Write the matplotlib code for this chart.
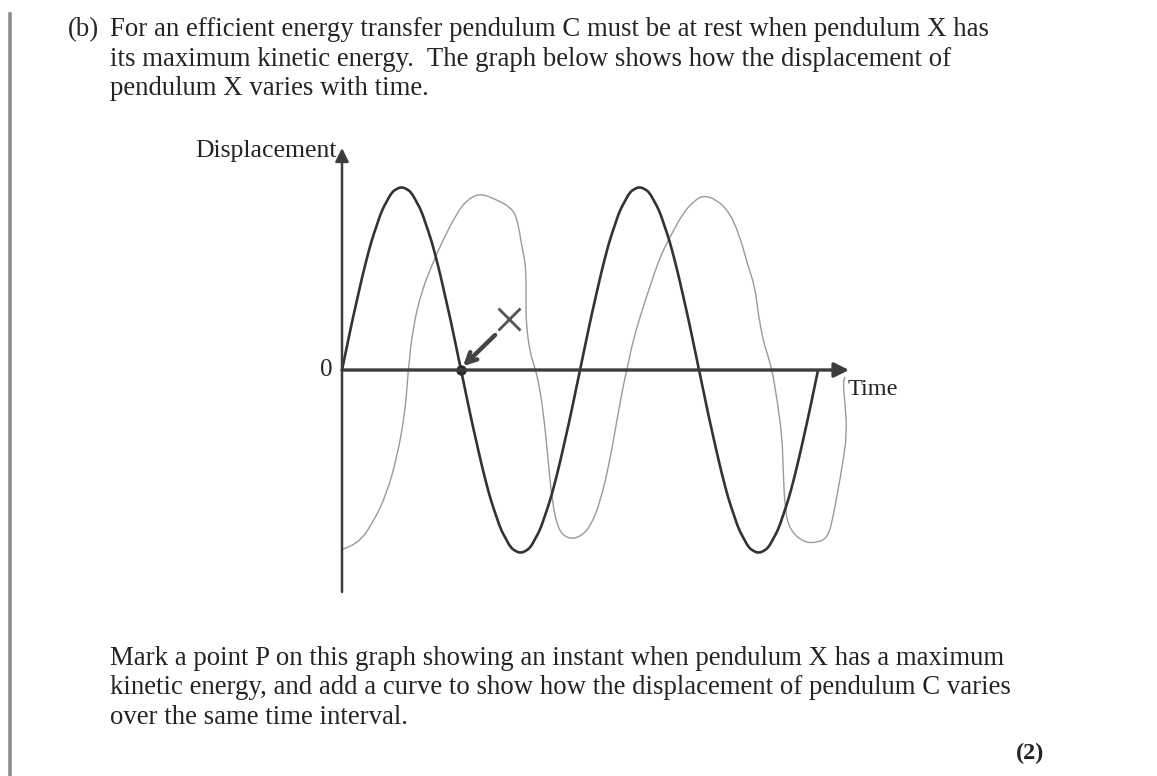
import numpy as np
import matplotlib.pyplot as plt
from matplotlib.lines import Line2D
from matplotlib.path import Path
from matplotlib.patches import PathPatch

plt.rcParams['font.family'] = ['Liberation Serif', 'DejaVu Serif']

W, H = 1157, 776

# pendulum X (printed curve): displacement read every 1/48 of a period, peak = 1
# both cycles on the page are identical, so one cycle is read and used twice
x_cycle = [0.00, 0.13, 0.26, 0.38, 0.50, 0.61, 0.71, 0.79, 0.87, 0.92, 0.97, 0.99,
           1.00, 0.99, 0.97, 0.92, 0.87, 0.79, 0.71, 0.61, 0.50, 0.38, 0.26, 0.13,
           0.00, -0.13, -0.26, -0.38, -0.50, -0.61, -0.71, -0.79, -0.87, -0.92, -0.97, -0.99,
           -1.00, -0.99, -0.97, -0.92, -0.87, -0.79, -0.71, -0.61, -0.50, -0.38, -0.26, -0.13]
x_disp = x_cycle + x_cycle + [0.00]
x_time = np.arange(len(x_disp)) / 48

# pendulum C (pencil curve drawn by hand)
c_time = [0.004, 0.063, 0.130, 0.189, 0.231, 0.265, 0.277, 0.298, 0.336, 0.382,
          0.424, 0.483, 0.525, 0.580, 0.651, 0.706, 0.735, 0.756, 0.773, 0.773,
          0.773, 0.790, 0.807, 0.824, 0.845, 0.866, 0.882, 0.908, 0.950, 1.000,
          1.042, 1.084, 1.126, 1.160, 1.189, 1.197, 1.223, 1.265, 1.303, 1.336,
          1.378, 1.433, 1.475, 1.517, 1.576, 1.630, 1.672, 1.702, 1.735, 1.748,
          1.769, 1.782, 1.807, 1.828, 1.849, 1.853, 1.861, 1.882, 1.937, 1.996,
          2.042, 2.063, 2.084, 2.101, 2.122, 2.113, 2.105, 2.113]
c_disp = [-0.978, -0.956, -0.836, -0.672, -0.475, -0.235, -0.016, 0.235, 0.437, 0.585,
          0.710, 0.858, 0.929, 0.967, 0.929, 0.891, 0.836, 0.672, 0.563, 0.399,
          0.257, 0.093, 0.027, -0.055, -0.219, -0.492, -0.710, -0.874, -0.923, -0.913,
          -0.858, -0.727, -0.492, -0.235, -0.038, 0.000, 0.164, 0.344, 0.492, 0.617,
          0.727, 0.858, 0.918, 0.956, 0.929, 0.858, 0.727, 0.585, 0.454, 0.311,
          0.164, 0.109, 0.000, -0.164, -0.366, -0.530, -0.765, -0.874, -0.940, -0.945,
          -0.913, -0.803, -0.656, -0.530, -0.344, -0.180, -0.071, -0.038]

# point P and the pencil cross
p_time, p_disp = 0.5, 0.0
cross_time, cross_disp = 0.70, 0.28
arrow_from = (0.643, 0.191)

t_max = 2.13
d_lim = 1.213

top_lines = ["For an efficient energy transfer pendulum C must be at rest when pendulum X has",
             "its maximum kinetic energy.  The graph below shows how the displacement of",
             "pendulum X varies with time."]
bottom_lines = ["Mark a point P on this graph showing an instant when pendulum X has a maximum",
                "kinetic energy, and add a curve to show how the displacement of pendulum C varies",
                "over the same time interval."]


def smooth_path(ts, ds):
    # quadratic bezier through the midpoints, read points act as control points
    pts = np.column_stack([ts, ds])
    verts = [pts[0]]
    codes = [Path.MOVETO]
    for i in range(1, len(pts) - 1):
        verts += [pts[i], (pts[i] + pts[i + 1]) / 2]
        codes += [Path.CURVE3, Path.CURVE3]
    verts.append(pts[-1])
    codes.append(Path.LINETO)
    return Path(verts, codes)


fig = plt.figure(figsize=(W / 100, H / 100), dpi=100)
fig.patch.set_facecolor('white')


def fx(px):
    return px / W


def fy(py):
    return 1 - py / H


# grey margin bar of the scan
fig.add_artist(Line2D([fx(10), fx(10)], [fy(14), 0], color='#8c8c8c', lw=2.6))

ink = '#242424'
fig.text(fx(68), fy(36), "(b)", size=19.3, color=ink, va='baseline')
for i, line in enumerate(top_lines):
    fig.text(fx(110), fy(36 + 29.5 * i), line, size=19.3, color=ink, va='baseline')
for i, line in enumerate(bottom_lines):
    fig.text(fx(110), fy(665 + 29.5 * i), line, size=19.3, color=ink, va='baseline')
fig.text(fx(1016), fy(759), "(2)", size=17.5, color=ink, va='baseline', fontweight='bold')

ax = fig.add_axes([fx(342), fy(592), fx(849) - fx(342), fy(148) - fy(592)])
ax.set_xlim(0, t_max)
ax.set_ylim(-d_lim, d_lim)
ax.axis('off')

axis_col = '#3c3c3c'
ax.annotate('', xy=(t_max, 0), xytext=(0, 0),
            arrowprops=dict(arrowstyle='-|>', color=axis_col, lw=2.4, mutation_scale=22,
                            shrinkA=0, shrinkB=0))
ax.annotate('', xy=(0, d_lim), xytext=(0, -d_lim),
            arrowprops=dict(arrowstyle='-|>', color=axis_col, lw=1.8, mutation_scale=20,
                            shrinkA=0, shrinkB=0))

ax.text(-0.02, 1.164, "Displacement", size=18.5, color=ink, ha='right', va='baseline')
ax.text(-0.038, 0, "0", size=18, color=ink, ha='right', va='center')
ax.text(2.122, -0.137, "Time", size=17.5, color=ink, ha='left', va='baseline')

ax.add_patch(PathPatch(smooth_path(c_time, c_disp), fill=False, edgecolor='#9a9a9a',
                       lw=1.0, joinstyle='round', clip_on=False))
ax.add_patch(PathPatch(smooth_path(x_time, x_disp), fill=False, edgecolor='#333333',
                       lw=1.9, joinstyle='round', clip_on=False))

# pencil marks: cross, arrow and point P
ax.plot(cross_time, cross_disp, marker='x', ms=16, mew=2.0, color='#555555', clip_on=False)
ax.annotate('', xy=(p_time, p_disp + 0.01), xytext=arrow_from,
            arrowprops=dict(arrowstyle='->', color='#444444', lw=3.2, mutation_scale=18,
                            shrinkA=0, shrinkB=2))
ax.plot(p_time, p_disp, 'o', ms=6.5, color='#2a2a2a', clip_on=False)

fig.savefig('out.png', dpi=100, facecolor='white')
